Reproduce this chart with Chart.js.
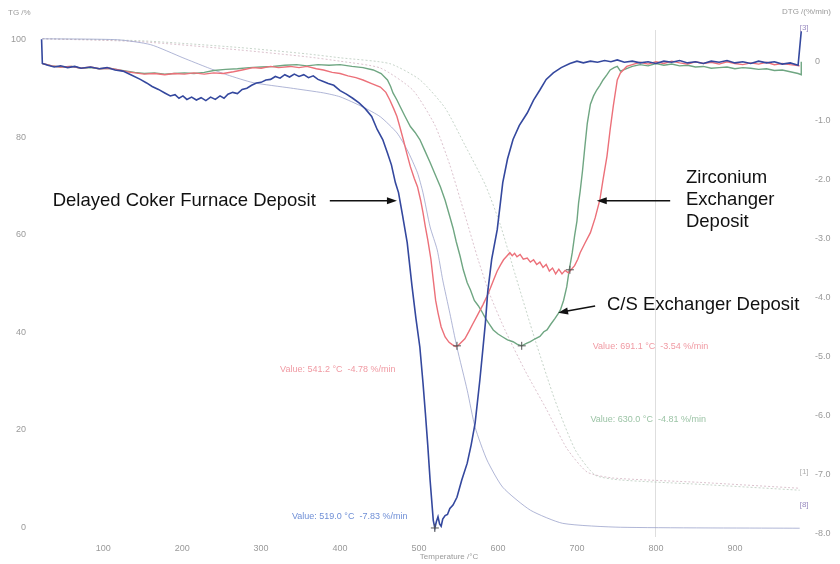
<!DOCTYPE html>
<html>
<head>
<meta charset="utf-8">
<title>TGA / DTG of exchanger and furnace deposits</title>
<script src="https://cdn.jsdelivr.net/npm/chart.js@4.4.1/dist/chart.umd.min.js"></script>
<style>
  html, body { margin: 0; padding: 0; background: #fff; }
  #wrap { width: 840px; height: 564px; position: relative; }
</style>
</head>
<body>
<div id="wrap"><canvas id="tga"></canvas></div>
<script>
const FONT = "'Liberation Sans', Arial, sans-serif";

const tempTicks = [100, 200, 300, 400, 500, 600, 700, 800, 900];
const tgTicks = [0, 20, 40, 60, 80, 100];
const dtgTicks = [0, -1, -2, -3, -4, -5, -6, -7, -8];

// TG curves: [temperature °C, mass %]
const tgCoker = [
  [23, 100.2], [118, 100], [160, 99.0], [201, 96.3], [232, 94.3], [257, 92.8],
  [290, 91.2], [337, 90.1], [379, 89.1], [400, 88.3], [429, 86.2], [451, 84.2],
  [472, 80.9], [485, 77.4], [498, 72.7], [505, 68.6], [514, 61.6], [523, 56.9],
  [530, 50.7], [539, 43.9], [548, 36.9], [561, 28.1], [571, 20.5], [586, 13.8],
  [606, 8.2], [641, 3.5], [682, 0.8], [755, 0], [982, -0.2]
];
const tgZirconium = [
  [23, 100.2], [147, 99.6], [273, 97.9], [358, 96.5], [400, 95.6], [451, 94.2],
  [492, 89.7], [520, 82.5], [539, 74.3], [558, 64.1], [575, 54.8], [590, 47.6],
  [609, 40.4], [634, 32.2], [662, 24.0], [687, 16.2], [713, 11.3], [746, 10.1],
  [856, 9.2], [982, 8.0]
];
const tgCarbonSteel = [
  [23, 100.2], [147, 99.8], [273, 98.4], [358, 97.1], [400, 96.3], [463, 95.1],
  [501, 91.8], [533, 86.0], [558, 78.4], [584, 70.2], [603, 62.0], [622, 51.7],
  [647, 38.4], [672, 26.1], [698, 15.8], [723, 10.7], [755, 9.7], [856, 8.8],
  [982, 7.6]
];

// DTG curves: [temperature °C, %/min]
const dtgCoker = [
  [22, 0.38], [23, -0.03], [30, -0.06], [38, -0.09], [46, -0.07], [55, -0.10],
  [64, -0.08], [72, -0.11], [84, -0.09], [95, -0.12], [105, -0.10], [115, -0.14],
  [125, -0.16], [135, -0.22], [147, -0.30], [155, -0.36], [162, -0.42], [170, -0.47],
  [178, -0.53], [185, -0.58], [191, -0.56], [196, -0.62], [201, -0.58], [206, -0.64],
  [212, -0.60], [218, -0.65], [224, -0.61], [230, -0.66], [236, -0.60], [242, -0.64],
  [248, -0.58], [253, -0.62], [258, -0.55], [264, -0.52], [270, -0.54], [276, -0.47],
  [282, -0.45], [288, -0.40], [294, -0.36], [300, -0.35], [306, -0.31], [312, -0.30],
  [318, -0.25], [324, -0.28], [330, -0.22], [336, -0.26], [342, -0.21], [348, -0.25],
  [354, -0.22], [360, -0.27], [366, -0.24], [372, -0.30], [378, -0.33], [385, -0.37],
  [392, -0.40], [400, -0.49], [408, -0.55], [416, -0.62], [424, -0.70], [432, -0.80],
  [440, -0.93], [447, -1.15], [454, -1.32], [460, -1.55], [465, -1.75], [470, -2.05],
  [474, -2.22], [479, -2.60], [485, -3.07], [491, -3.80], [496, -4.35], [501, -4.84],
  [505, -5.45], [508, -5.96], [511, -6.50], [514, -7.10], [518, -7.78], [520, -7.91],
  [522, -7.80], [524, -7.72], [526, -7.84], [528, -7.88], [530, -7.76], [533, -7.70],
  [536, -7.68], [539, -7.58], [543, -7.52], [548, -7.39], [554, -7.10], [561, -6.81],
  [566, -6.50], [571, -6.13], [577, -5.40], [581, -4.85], [584, -4.43], [587, -3.90],
  [592, -3.35], [599, -2.85], [606, -2.05], [612, -1.65], [619, -1.32], [627, -1.08],
  [637, -0.87], [645, -0.65], [653, -0.48], [661, -0.30], [670, -0.19], [680, -0.10],
  [691, -0.03], [700, 0.01], [708, -0.02], [717, 0.01], [726, -0.01], [735, 0.02],
  [743, 0.00], [751, 0.03], [760, -0.01], [770, 0.01], [780, -0.02], [790, 0.00],
  [800, -0.03], [810, 0.01], [820, -0.01], [830, 0.02], [840, -0.02], [850, 0.00],
  [860, -0.03], [870, 0.01], [880, -0.01], [890, 0.02], [900, -0.02], [910, 0.00],
  [920, -0.03], [930, 0.01], [940, -0.02], [950, 0.00], [960, -0.04], [970, -0.02],
  [980, -0.06], [984, 0.52]
];
const dtgZirconium = [
  [23, -0.03], [35, -0.07], [46, -0.09], [60, -0.08], [72, -0.11], [84, -0.09],
  [95, -0.12], [108, -0.11], [120, -0.14], [130, -0.17], [140, -0.19], [152, -0.21],
  [165, -0.20], [178, -0.22], [190, -0.20], [203, -0.21], [215, -0.19], [228, -0.21],
  [240, -0.19], [252, -0.20], [265, -0.17], [276, -0.14], [290, -0.10], [300, -0.11],
  [312, -0.08], [322, -0.10], [337, -0.08], [348, -0.10], [358, -0.08], [370, -0.12],
  [379, -0.14], [390, -0.18], [400, -0.20], [410, -0.24], [420, -0.27], [429, -0.31],
  [440, -0.37], [451, -0.43], [458, -0.52], [463, -0.65], [468, -0.80], [472, -0.93],
  [476, -1.12], [480, -1.32], [485, -1.58], [489, -1.78], [494, -1.98], [498, -2.12],
  [502, -2.35], [505, -2.56], [508, -2.80], [511, -3.02], [515, -3.35], [518, -3.70],
  [521, -4.05], [524, -4.26], [528, -4.50], [533, -4.67], [538, -4.76], [542, -4.80],
  [546, -4.83], [549, -4.82], [552, -4.78], [558, -4.70], [563, -4.58], [568, -4.45],
  [574, -4.30], [581, -4.12], [586, -3.98], [590, -3.85], [595, -3.68], [599, -3.55],
  [603, -3.45], [607, -3.36], [611, -3.30], [615, -3.24], [618, -3.29], [621, -3.25],
  [624, -3.31], [628, -3.27], [632, -3.35], [637, -3.33], [641, -3.40], [645, -3.36],
  [649, -3.44], [653, -3.40], [657, -3.49], [661, -3.44], [665, -3.55], [669, -3.50],
  [673, -3.60], [677, -3.52], [681, -3.60], [685, -3.54], [689, -3.58], [693, -3.52],
  [697, -3.46], [701, -3.35], [704, -3.24], [710, -3.08], [717, -2.90], [723, -2.65],
  [729, -2.34], [733, -2.00], [738, -1.60], [742, -1.15], [746, -0.75], [751, -0.31],
  [755, -0.19], [763, -0.08], [772, -0.04], [780, -0.01], [790, -0.04], [800, 0.00],
  [810, -0.03], [820, 0.01], [830, -0.02], [840, -0.04], [850, 0.00], [860, -0.03],
  [870, -0.01], [880, -0.04], [890, 0.00], [900, -0.03], [910, -0.05], [920, -0.02],
  [930, -0.04], [940, -0.01], [950, -0.05], [960, -0.03], [970, -0.05], [982, -0.07]
];
const dtgCarbonSteel = [
  [23, -0.03], [35, -0.07], [46, -0.09], [60, -0.08], [72, -0.11], [84, -0.10],
  [95, -0.12], [108, -0.11], [120, -0.14], [130, -0.16], [140, -0.18], [152, -0.20],
  [165, -0.19], [178, -0.21], [190, -0.20], [203, -0.19], [215, -0.20], [228, -0.18],
  [240, -0.15], [255, -0.13], [270, -0.12], [285, -0.10], [300, -0.09], [315, -0.08],
  [330, -0.06], [345, -0.05], [358, -0.07], [372, -0.05], [386, -0.06], [400, -0.05],
  [415, -0.08], [429, -0.10], [442, -0.14], [452, -0.20], [460, -0.31], [464, -0.42],
  [467, -0.53], [472, -0.65], [476, -0.76], [482, -0.92], [489, -1.10], [495, -1.20],
  [501, -1.32], [507, -1.50], [514, -1.71], [520, -1.90], [527, -2.12], [533, -2.35],
  [539, -2.63], [543, -2.82], [547, -3.05], [552, -3.30], [556, -3.53], [561, -3.75],
  [565, -3.87], [570, -4.05], [575, -4.14], [580, -4.25], [584, -4.35], [589, -4.45],
  [594, -4.55], [600, -4.62], [606, -4.67], [612, -4.72], [619, -4.75], [624, -4.79],
  [630, -4.82], [636, -4.78], [641, -4.75], [647, -4.70], [653, -4.66], [658, -4.58],
  [662, -4.55], [667, -4.45], [672, -4.36], [676, -4.28], [679, -4.21], [683, -4.05],
  [687, -3.82], [690, -3.55], [694, -3.24], [697, -2.95], [700, -2.70], [702, -2.40],
  [704, -2.20], [707, -1.85], [710, -1.44], [713, -1.05], [717, -0.72], [721, -0.58],
  [725, -0.48], [729, -0.40], [733, -0.31], [738, -0.22], [742, -0.14], [747, -0.10],
  [751, -0.08], [755, -0.16], [762, -0.12], [770, -0.08], [780, -0.05], [790, -0.07],
  [800, -0.03], [810, -0.06], [820, -0.04], [830, -0.07], [840, -0.06], [850, -0.09],
  [860, -0.08], [870, -0.11], [880, -0.10], [890, -0.09], [900, -0.12], [910, -0.10],
  [920, -0.11], [930, -0.13], [940, -0.12], [950, -0.15], [960, -0.14], [970, -0.17],
  [980, -0.20], [984, -0.22], [984, 0.00]
];

// peak markers on the DTG curves
const peakMarks = [[520, -7.91], [548, -4.82], [691, -3.53], [630, -4.82]];

// free text placed in data units (temperature, TG %)
const notes = [
  { text: "Delayed Coker Furnace Deposit", t: 36, p: 67, size: 18.5, color: "#111" },
  { text: "Zirconium", t: 838, p: 71.7, size: 18.5, color: "#111" },
  { text: "Exchanger", t: 838, p: 67.2, size: 18.5, color: "#111" },
  { text: "Deposit", t: 838, p: 62.6, size: 18.5, color: "#111" },
  { text: "C/S Exchanger Deposit", t: 738, p: 45.6, size: 18.5, color: "#111" },
  { text: "Value: 541.2 °C  -4.78 %/min", t: 324, p: 32.3, size: 9, color: "#f09aa3" },
  { text: "Value: 519.0 °C  -7.83 %/min", t: 339, p: 2.1, size: 9, color: "#6f8fd6" },
  { text: "Value: 691.1 °C  -3.54 %/min", t: 720, p: 37.0, size: 9, color: "#f09aa3" },
  { text: "Value: 630.0 °C  -4.81 %/min", t: 717, p: 22.0, size: 9, color: "#9cc4a6" },
  { text: "[1]", t: 982, p: 11.3, size: 8, color: "#b0b0b0" },
  { text: "[8]", t: 982, p: 4.6, size: 8, color: "#9a8cc0" },
  { text: "[3]", t: 982, p: 102.4, size: 8, color: "#9a8cc0" }
];
const arrows = [
  { from: [387, 67], to: [472, 67] },
  { from: [818, 67], to: [725, 67] },
  { from: [723, 45.4], to: [676, 44] }
];

const notesPlugin = {
  id: "notes",
  afterDatasetsDraw(chart) {
    const { ctx, chartArea } = chart;
    const x = chart.scales.x;
    const y = chart.scales.y;
    ctx.save();
    ctx.textBaseline = "middle";
    ctx.textAlign = "left";
    notes.forEach((n) => {
      ctx.font = n.size + "px " + FONT;
      ctx.fillStyle = n.color;
      ctx.fillText(n.text, x.getPixelForValue(n.t), y.getPixelForValue(n.p));
    });

    ctx.strokeStyle = "#111";
    ctx.fillStyle = "#111";
    ctx.lineWidth = 1.5;
    arrows.forEach((a) => {
      const x0 = x.getPixelForValue(a.from[0]);
      const y0 = y.getPixelForValue(a.from[1]);
      const x1 = x.getPixelForValue(a.to[0]);
      const y1 = y.getPixelForValue(a.to[1]);
      const ang = Math.atan2(y1 - y0, x1 - x0);
      ctx.beginPath();
      ctx.moveTo(x0, y0);
      ctx.lineTo(x1 - 8 * Math.cos(ang), y1 - 8 * Math.sin(ang));
      ctx.stroke();
      ctx.beginPath();
      ctx.moveTo(x1, y1);
      ctx.lineTo(x1 - 10 * Math.cos(ang) + 3.5 * Math.sin(ang), y1 - 10 * Math.sin(ang) - 3.5 * Math.cos(ang));
      ctx.lineTo(x1 - 10 * Math.cos(ang) - 3.5 * Math.sin(ang), y1 - 10 * Math.sin(ang) + 3.5 * Math.cos(ang));
      ctx.closePath();
      ctx.fill();
    });

    // axis captions
    ctx.font = "8px " + FONT;
    ctx.fillStyle = "#9a9a9a";
    ctx.fillText("TG /%", chartArea.left - 32, chartArea.top - 17);
    ctx.fillText("DTG /(%/min)", chartArea.right - 24, chartArea.top - 18);
    ctx.fillText("Temperature /°C", x.getPixelForValue(501), chartArea.bottom + 20);
    ctx.restore();
  }
};

function dtgLine(label, data, color, width) {
  return {
    label: label,
    data: data,
    yAxisID: "y2",
    borderColor: color,
    borderWidth: width,
    pointRadius: 0,
    tension: 0,
    order: 1
  };
}

function tgLine(label, data, color, dash) {
  return {
    label: label,
    data: data,
    yAxisID: "y",
    borderColor: color,
    borderWidth: 1,
    borderDash: dash,
    pointRadius: 0,
    tension: 0.2,
    order: 3
  };
}

new Chart(document.getElementById("tga"), {
  type: "line",
  data: {
    datasets: [
      tgLine("TG Coker", tgCoker, "rgba(150,158,200,0.75)", []),
      tgLine("TG Zirconium", tgZirconium, "rgba(205,170,185,0.7)", [2, 2]),
      tgLine("TG C/S", tgCarbonSteel, "rgba(175,195,180,0.7)", [2, 2]),
      dtgLine("Delayed Coker Furnace Deposit", dtgCoker, "#34489e", 1.6),
      dtgLine("Zirconium Exchanger Deposit", dtgZirconium, "#ec7079", 1.4),
      dtgLine("C/S Exchanger Deposit", dtgCarbonSteel, "#6fa682", 1.4),
      {
        label: "peaks",
        type: "scatter",
        data: peakMarks,
        yAxisID: "y2",
        pointStyle: "cross",
        pointRadius: 4,
        borderColor: "#555",
        borderWidth: 1,
        order: 0
      }
    ]
  },
  options: {
    responsive: true,
    maintainAspectRatio: false,
    animation: false,
    layout: { padding: { top: 30, left: 0, right: 0, bottom: 0 } },
    plugins: {
      legend: { display: false },
      tooltip: { enabled: false }
    },
    scales: {
      x: {
        type: "linear",
        min: 20,
        max: 990,
        afterBuildTicks: (scale) => { scale.ticks = tempTicks.map((v) => ({ value: v })); },
        afterFit: (scale) => { scale.height = 27; },
        border: { display: false },
        grid: {
          drawTicks: false,
          color: (c) => (c.tick && c.tick.value === 800 ? "rgba(0,0,0,0.13)" : "rgba(0,0,0,0)")
        },
        ticks: { padding: 6, color: "#9a9a9a", font: { family: FONT, size: 9 } }
      },
      y: {
        position: "left",
        min: -2,
        max: 102,
        afterBuildTicks: (scale) => { scale.ticks = tgTicks.map((v) => ({ value: v })); },
        afterFit: (scale) => { scale.width = 40; },
        border: { display: false },
        grid: { display: false, drawTicks: false },
        ticks: { padding: 14, color: "#9a9a9a", font: { family: FONT, size: 9 } }
      },
      y2: {
        position: "right",
        min: -8.063,
        max: 0.538,
        afterBuildTicks: (scale) => { scale.ticks = dtgTicks.map((v) => ({ value: v })); },
        afterFit: (scale) => { scale.width = 34; },
        border: { display: false },
        grid: { display: false, drawTicks: false },
        ticks: {
          padding: 9,
          color: "#9a9a9a",
          font: { family: FONT, size: 9 },
          callback: (v) => (v === 0 ? "0" : v.toFixed(1))
        }
      }
    }
  },
  plugins: [notesPlugin]
});
</script>
</body>
</html>
